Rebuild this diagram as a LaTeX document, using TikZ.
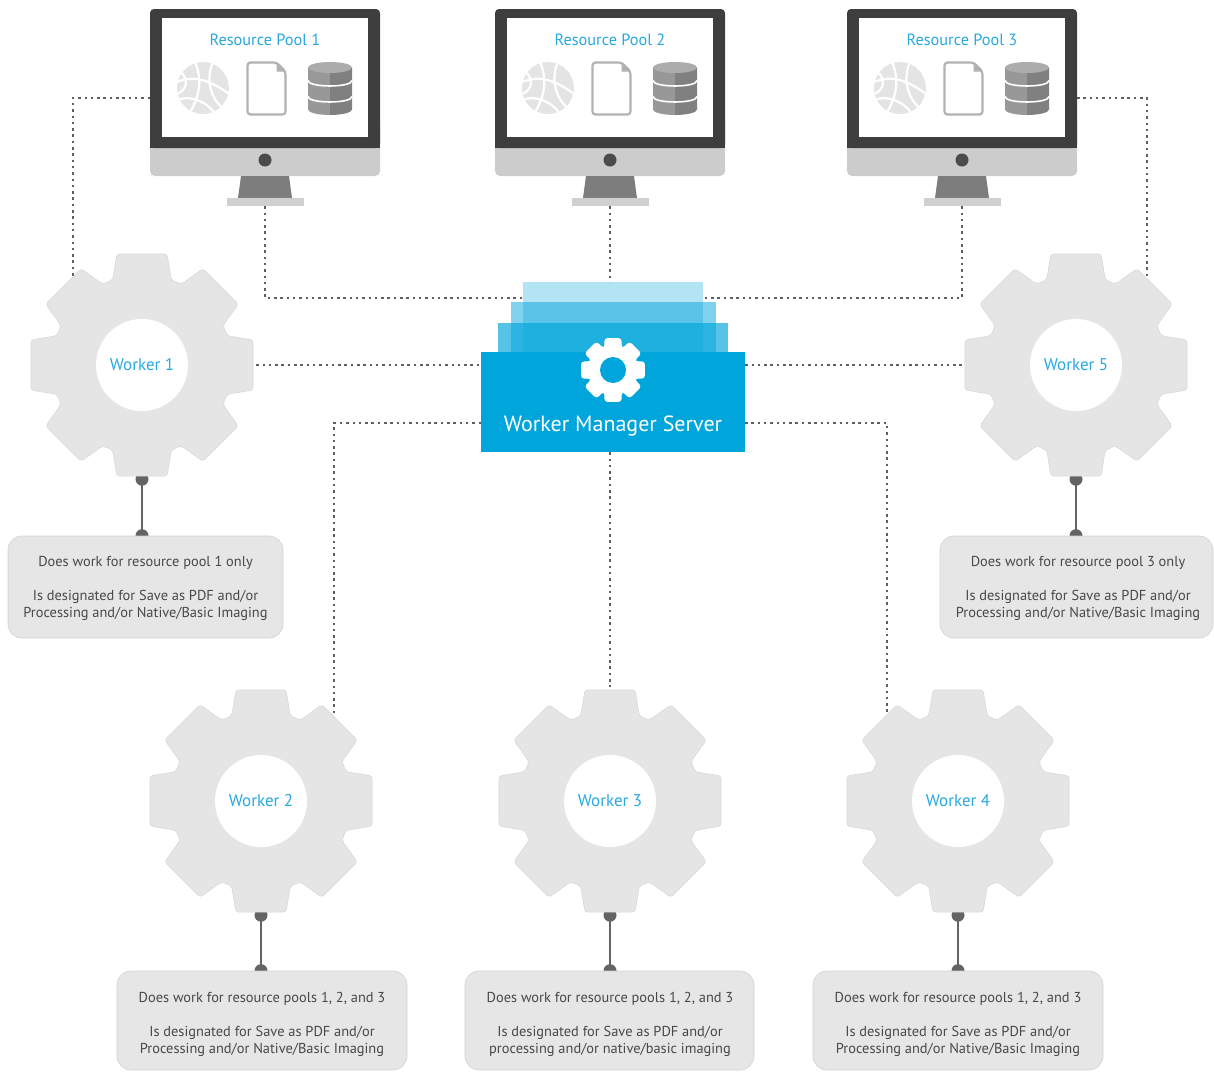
\documentclass[tikz,border=0pt]{standalone}
\usepackage{fontspec}
\setmainfont{PT Sans}
\usetikzlibrary{calc,backgrounds}

\definecolor{poolcyan}{RGB}{41,169,224}
\definecolor{srvblue}{RGB}{0,165,219}
\definecolor{geargray}{RGB}{229,229,229}
\definecolor{gearedge}{RGB}{214,214,214}
\definecolor{boxgray}{RGB}{230,230,230}
\definecolor{boxedge}{RGB}{210,210,210}
\definecolor{txtgray}{RGB}{72,72,72}
\definecolor{dotgray}{RGB}{95,95,95}
\definecolor{stemgray}{RGB}{100,100,100}
\definecolor{bezelgray}{RGB}{62,62,62}
\definecolor{chingray}{RGB}{204,204,204}
\definecolor{standgray}{RGB}{125,125,125}
\definecolor{basegray}{RGB}{208,208,208}
\definecolor{buttongray}{RGB}{75,75,75}
\definecolor{globegray}{RGB}{228,228,228}
\definecolor{docgray}{RGB}{178,178,178}
\definecolor{dbleft}{RGB}{152,152,152}
\definecolor{dbright}{RGB}{128,128,128}
\definecolor{dbtop}{RGB}{172,172,172}

% gear outline: centre (#1,#2), tip radius #3, root radius #4,
% tooth half-angle at tip #5 and at root #6, path options #7
\newcommand\gearfig[7]{%
  \begin{scope}[shift={(#1,#2)}]
    \path[#7, rounded corners=3pt] (-22.5:#4)
      \foreach \k in {0,...,7}{
        -- ({45*\k-#6}:#4) -- ({45*\k-#5}:#3)
        -- ({45*\k+#5}:#3) -- ({45*\k+#6}:#4)} -- cycle;
  \end{scope}}

% desktop monitor: name #1, centre x #2, pool number #3
\newcommand\monitor[3]{%
  \fill[chingray, rounded corners=5pt] (#2-115,120) rectangle (#2+115,176);
  \fill[bezelgray, rounded corners=4pt] (#2-115,9) rectangle (#2+115,148);
  \fill[bezelgray] (#2-115,130) rectangle (#2+115,148);
  \node[fill=white, minimum width=206pt, minimum height=119pt, inner sep=0pt] (#1) at (#2,77.5) {};
  \fill[buttongray] (#2,160) circle[radius=6.5];
  \fill[standgray] (#2-24,176) -- (#2+24,176) -- (#2+27,198) -- (#2-27,198) -- cycle;
  \node[fill=basegray, minimum width=77pt, minimum height=8pt, inner sep=0pt] (#1b) at (#2,202) {};
  \node[text=poolcyan, font=\fontsize{16.3}{18}\selectfont] (#1t) at (#2,40) {Resource Pool #3};
  % globe
  \begin{scope}[shift={(#2-62,88)}]
    \begin{scope}
      \clip (0,0) circle[radius=26];
      \fill[globegray] (0,0) circle[radius=26];
      \draw[white, line width=2.2pt]
        (-26,-6) .. controls (-8,-14) and (10,-6) .. (26,6)
        (-8,-26) .. controls (0,-8) and (-4,10) .. (-14,26)
        (10,-26) .. controls (2,-8) and (8,12) .. (22,22)
        (-26,12) .. controls (-10,6) and (6,16) .. (12,26)
        (-22,-16) .. controls (-14,-8) and (-16,2) .. (-26,6);
    \end{scope}
  \end{scope}
  % document
  \begin{scope}[shift={(#2+1.5,88.5)}]
    \filldraw[fill=white, draw=docgray, line width=2.2pt, rounded corners=3pt]
      (-19,-26) -- (10,-26) -- (19,-17) -- (19,26) -- (-19,26) -- cycle;
    \fill[docgray] (10,-26) -- (10,-17) -- (19,-17) -- cycle;
  \end{scope}
  % database
  \begin{scope}[shift={(#2+65,88.5)}]
    \fill[dbleft] (-22,-21) -- (-22,21) .. controls (-22,24) and (-12,26.5) .. (0,26.5) -- (0,-21) -- cycle;
    \fill[dbright] (0,-21) -- (0,26.5) .. controls (12,26.5) and (22,24) .. (22,21) -- (22,-21) -- cycle;
    \fill[dbtop] (0,-21) ellipse[x radius=22, y radius=5.5];
    \draw[white, line width=1.6pt]
      (-22,-8) .. controls (-22,-0.7) and (22,-0.7) .. (22,-8)
      (-22,8) .. controls (-22,15.3) and (22,15.3) .. (22,8);
  \end{scope}
}

% worker gear: name #1, centre (#2,#3), label #4
\newcommand\worker[4]{%
  \gearfig{#2}{#3}{114}{90}{12.7}{19}{fill=geargray, draw=gearedge, line width=0.5pt}
  \node[circle, minimum size=228pt, inner sep=0pt] (#1) at (#2,#3) {};
  \node[circle, fill=white, minimum size=92pt, inner sep=0pt, text=poolcyan,
        font=\fontsize{17}{19}\selectfont] (#1l) at (#2,#3) {#4};
}

\tikzset{
  dotline/.style={draw=dotgray, line width=2.4pt, dash pattern=on 2.5pt off 3.8pt},
  stem/.style={draw=stemgray, line width=2.6pt},
  infobox/.style={rectangle, rounded corners=14pt, fill=boxgray, draw=boxedge,
                  line width=0.6pt, inner sep=0pt},
  infotext/.style={align=center, text=txtgray, font=\fontsize{14.4}{17}\selectfont, inner sep=0pt},
  layer/.style={fill=srvblue, inner sep=0pt}
}

\begin{document}
\begin{tikzpicture}[x=1pt, y=-1pt]
\useasboundingbox (0,0) rectangle (1214,1072);

% resource pools
\monitor{m1}{265}{1}
\monitor{m2}{610}{2}
\monitor{m3}{962}{3}

% worker manager server
\node[layer, fill opacity=0.3, minimum width=180pt, minimum height=70pt] (lay1) at (613,317) {};
\node[layer, fill opacity=0.5, minimum width=205pt, minimum height=50pt] (lay2) at (613.5,327) {};
\node[layer, fill opacity=0.66, minimum width=230pt, minimum height=29pt] (lay3) at (613,337.5) {};
\node[fill=srvblue, minimum width=264pt, minimum height=100pt, inner sep=0pt] (srv) at (613,402) {};
\gearfig{613}{370}{33}{24}{15}{21}{fill=white}
\fill[srvblue] (613,370) circle[radius=13];
\node[text=white, font=\fontsize{22}{24}\selectfont] (srvt) at (613,426) {Worker Manager Server};

% workers
\worker{w1}{142}{365}{Worker 1}
\worker{w5}{1076}{365}{Worker 5}
\worker{w2}{261}{801}{Worker 2}
\worker{w3}{610}{801}{Worker 3}
\worker{w4}{958}{801}{Worker 4}

% descriptions
\node[infobox, minimum width=275pt, minimum height=102pt] (b1) at (145.5,587) {};
\node[infotext] (b1t) at (145.5,588.5) {Does work for resource pool 1 only\\[17pt]Is designated for Save as PDF and/or\\Processing and/or Native/Basic Imaging};
\node[infobox, minimum width=273pt, minimum height=102pt] (b5) at (1076.5,587) {};
\node[infotext] (b5t) at (1078,588.5) {Does work for resource pool 3 only\\[17pt]Is designated for Save as PDF and/or\\Processing and/or Native/Basic Imaging};
\node[infobox, minimum width=290pt, minimum height=99pt] (b2) at (262,1020.5) {};
\node[infotext] (b2t) at (262,1024.5) {Does work for resource pools 1, 2, and 3\\[17pt]Is designated for Save as PDF and/or\\Processing and/or Native/Basic Imaging};
\node[infobox, minimum width=289pt, minimum height=99pt] (b3) at (609.5,1020.5) {};
\node[infotext] (b3t) at (610,1024.5) {Does work for resource pools 1, 2, and 3\\[17pt]Is designated for Save as PDF and/or\\processing and/or native/basic imaging};
\node[infobox, minimum width=290pt, minimum height=99pt] (b4) at (958,1020.5) {};
\node[infotext] (b4t) at (958,1024.5) {Does work for resource pools 1, 2, and 3\\[17pt]Is designated for Save as PDF and/or\\Processing and/or Native/Basic Imaging};

% connector end points
\coordinate (m1L) at (150,98);
\coordinate (w1in) at (73,282);
\coordinate (s1) at (523,298);
\coordinate (s3) at (703,298);
\coordinate (m3R) at (1077,98);
\coordinate (w5in) at (1147,282);
\coordinate (sL) at (481,423);
\coordinate (w2in) at (334,722);
\coordinate (sR) at (745,423);
\coordinate (w4in) at (887,722);

\begin{scope}[on background layer]
  % dotted links
  \draw[dotline] (m1L) -| (w1in);
  \draw[dotline] (m1b.south) |- (s1);
  \draw[dotline] (m2b.south) -- (m2b.south |- lay1.north);
  \draw[dotline] (m3b.south) |- (s3);
  \draw[dotline] (m3R) -| (w5in);
  \draw[dotline] (w1.east) -- (w1.east -| srv.west);
  \draw[dotline] (srv.east |- w5.west) -- (w5.west);
  \draw[dotline] (sL) -| (w2in);
  \draw[dotline] (srv.south -| w3.north) -- (w3.north);
  \draw[dotline] (sR) -| (w4in);
  % stems from workers to their descriptions
  \foreach \w/\b in {w1/b1, w5/b5, w2/b2, w3/b3, w4/b4}{
    \draw[stem] (\w.south) -- (\w.south |- \b.north);
    \fill[stemgray] (\w.south) circle[radius=6.5];
    \fill[stemgray] (\w.south |- \b.north) circle[radius=6.5];
  }
\end{scope}
\end{tikzpicture}
\end{document}
